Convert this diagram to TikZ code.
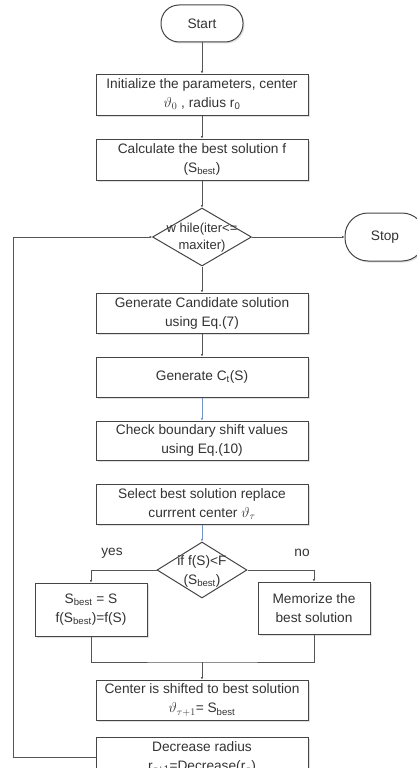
\documentclass[tikz,border=0pt]{standalone}
\usepackage{fontspec}
\setmainfont{Liberation Sans}
\usetikzlibrary{arrows.meta,shapes.geometric,shadows}

\definecolor{txt}{HTML}{333333}
\definecolor{edge}{HTML}{454545}
\definecolor{wire}{HTML}{555555}
\definecolor{bluewire}{RGB}{115,145,195}

\tikzset{
  every node/.style={font=\fontsize{13.7}{19}\selectfont, text=txt},
  boxshadow/.style={drop shadow={shadow xshift=1.5pt, shadow yshift=-1.5pt, fill=black, opacity=0.12}},
  procbox/.style={draw=edge, line width=1pt, fill=white, minimum width=212pt,
    minimum height=40pt, align=center, inner sep=0pt, boxshadow},
  sidebox/.style={procbox, minimum width=112pt},
  terminal/.style={draw=edge, line width=1pt, fill=white, rounded corners=18pt,
    align=center, inner sep=0pt, boxshadow},
  decision/.style={diamond, draw=edge, line width=1pt, fill=white, inner sep=0pt},
  label/.style={align=center, inner sep=0pt},
  wire/.style={draw=wire, line width=1pt},
  flow/.style={wire, -{Latex[length=2.5pt,width=2.5pt]}},
  blueflow/.style={flow, draw=bluewire}
}

\begin{document}
\begin{tikzpicture}[x=1pt, y=-1pt]
  \useasboundingbox (0,0) rectangle (417,768);

  % main column of steps
  \node[terminal, minimum width=82pt, minimum height=37pt] (start) at (202,23.5) {Start};
  \node[procbox, minimum height=41pt] (init) at (202,94.5)
    {Initialize the parameters, center\\$\vartheta_0$ , radius r\textsubscript{0}};
  \node[procbox, minimum height=41pt] (calc) at (202,159.5)
    {Calculate the best solution f\\(S\textsubscript{best})};

  \node[decision, minimum width=99pt, minimum height=58pt] (loop) at (202,237) {};
  \node[label, font=\fontsize{13}{17}\selectfont] (looptxt) at (202,238) {w hile(iter<=\\maxiter)};

  \node[terminal, minimum width=80pt, minimum height=48pt, rounded corners=23pt] (stop) at (385,237) {Stop};

  \node[procbox] (cand) at (202,313) {Generate Candidate solution\\using Eq.(7)};
  \node[procbox] (gen) at (202,377) {Generate C\textsubscript{t}(S)};
  \node[procbox, minimum height=39pt] (check) at (202,440.5) {Check boundary shift values\\using Eq.(10)};
  \node[procbox] (select) at (202,504) {Select best solution replace\\currrent center $\vartheta_\tau$};

  \node[decision, minimum width=90pt, minimum height=56pt] (test) at (202,570) {};
  \node[label] (testtxt) at (202,571.5) {if f(S)<F\\(S\textsubscript{best})};

  \node[label] (yes) at (112,553) {yes};
  \node[label] (no) at (302,553) {no};

  \node[sidebox, minimum height=53pt] (better) at (91,609.5)
    {S\textsubscript{best} = S\\f(S\textsubscript{best})=f(S)};
  \node[sidebox, minimum height=52pt] (keep) at (314,608) {Memorize the\\best solution};

  \node[procbox] (shift) at (202,700)
    {Center is shifted to best solution\\$\vartheta_{\tau+1}$= S\textsubscript{best}};
  \node[procbox] (shrink) at (202,757)
    {Decrease radius\\r\textsubscript{$\tau$+1}=Decrease(r\textsubscript{$\tau$})};

  % helper points for the routed connectors
  \coordinate (merge) at (202,662);
  \coordinate (back) at (13,757);

  % connectors
  \draw[flow] (start) -- (init);
  \draw[flow] (init) -- (calc);
  \draw[flow] (calc) -- (loop);
  \draw[flow] (loop.east) -- (stop.west);
  \draw[flow] (loop) -- (cand);
  \draw[flow] (cand) -- (gen);
  \draw[blueflow] (gen) -- (check);
  \draw[blueflow] (select) -- (test);
  \draw[flow] (test.west) -| (better.north);
  \draw[flow] (test.east) -| (keep.north);
  \draw[wire] (better.south) |- (merge) -| (keep.south);
  \draw[flow] (merge) -- (shift);
  \draw[flow] (shrink.west) -- (back) |- (loop.west);
\end{tikzpicture}
\end{document}
